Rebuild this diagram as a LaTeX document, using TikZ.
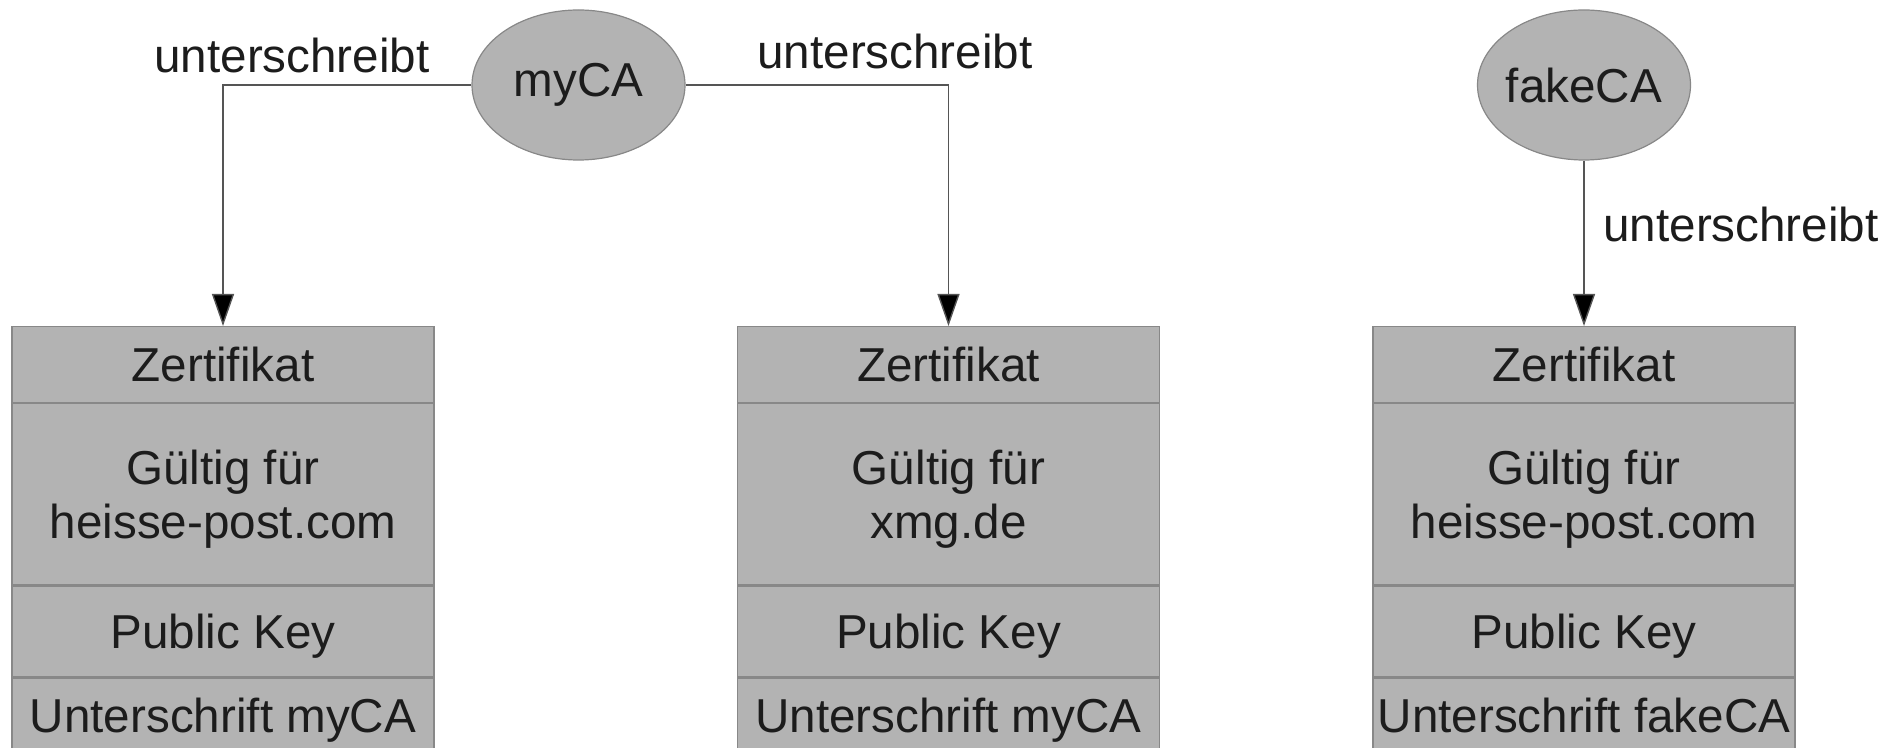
\documentclass[tikz,border=0pt]{standalone}
\usepackage{fontspec}
\setmainfont{Liberation Sans}
\usetikzlibrary{shapes.geometric,arrows.meta}

\definecolor{cellfill}{RGB}{179,179,179}
\definecolor{cellline}{RGB}{136,136,136}
\definecolor{connline}{RGB}{85,85,85}
\definecolor{inktext}{RGB}{28,28,28}

\tikzset{
  txt/.style={font=\fontsize{23.8}{27}\selectfont, text=inktext},
  cell/.style={txt, draw=cellline, line width=0.6pt, fill=cellfill,
               minimum width=211pt, inner sep=0pt, anchor=north, align=center},
  oneline/.style={cell, text height=20pt, text depth=3pt},
  ca/.style={txt, ellipse, draw=cellline, line width=0.6pt, fill=cellfill,
             minimum width=106.5pt, minimum height=75pt, inner sep=0pt},
  conn/.style={draw=connline, line width=0.7pt,
               -{Triangle[length=16pt,width=11pt,fill=black]}},
  lbl/.style={txt}
}

\begin{document}
\begin{tikzpicture}[x=0.5pt, y=-0.5pt]
  \clip (0,0) rectangle (1901,748);
  \fill[white] (0,0) rectangle (1901,748);

  % certificate stacks: four stacked fields each
  \foreach \p/\cx/\dom/\sig in {L/223/heisse-post.com/myCA,
                               M/948.5/xmg.de/myCA,
                               R/1584/heisse-post.com/fakeCA}{
    \node[oneline, minimum height=38pt] (\p1) at (\cx,326) {Zertifikat};
    \node[cell, minimum height=90.5pt] (\p2) at (\p1.south)
      {\rule{0pt}{22.5pt}Gültig für\\\dom\rule[-5pt]{0pt}{5pt}};
    \node[oneline, minimum height=45.5pt] (\p3) at (\p2.south) {Public Key};
    \node[cell, minimum height=40pt, text height=19pt, text depth=5pt]
      (\p4) at (\p3.south) {Unterschrift \sig};
  }

  % certificate authorities
  \node[ca] (myCA) at (578.5,85) {\makebox[0pt]{myCA}};
  \node[ca] (fakeCA) at (1584,85) {\makebox[0pt]{fakeCA}};

  % signing relations
  \draw[conn] (myCA.west) -| (L1.north);
  \draw[conn] (myCA.east) -| (M1.north);
  \draw[conn] (fakeCA.south) -- (R1.north);

  \node[lbl] (sigL) at (292,55) {unterschreibt};
  \node[lbl] (sigM) at (895,51) {unterschreibt};
  \node[lbl] (sigR) at (1741,224) {unterschreibt};
\end{tikzpicture}
\end{document}
